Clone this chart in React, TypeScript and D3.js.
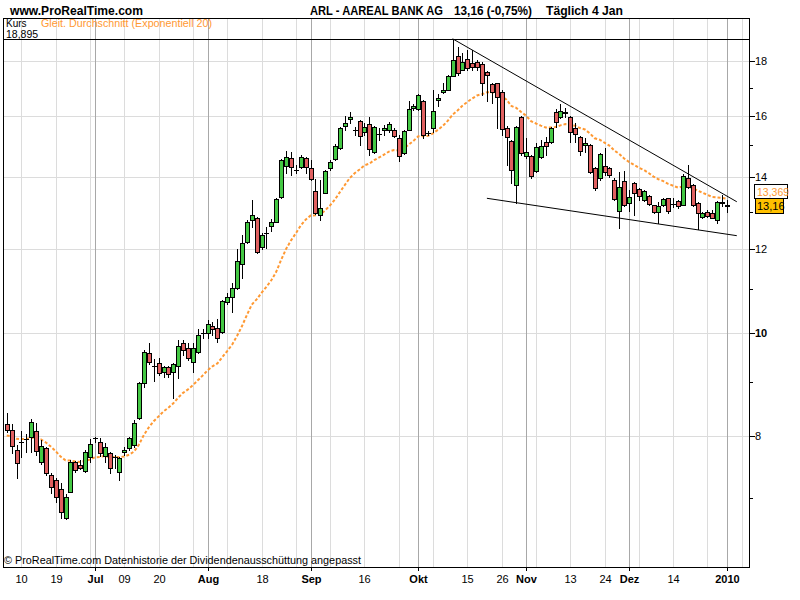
import React from "react";
import * as d3 from "d3";

// ---- Data (ARL - Aareal Bank AG, daily, 5 Jun 2009 .. 4 Jan 2010) ----
const opens = [
  8.21, 8.11, 7.76, 7.89, 7.94, 7.98, 8.09, 7.56, 7.80, 7.35,
  7.27, 7.13, 6.70, 7.09, 7.56, 7.51, 7.42, 7.64, 7.96, 7.90,
  7.66, 7.71, 7.64, 7.40, 7.73, 7.80, 7.85, 8.32, 8.97, 9.58,
  9.30, 9.37, 9.19, 9.29, 9.19, 9.31, 9.78, 9.68, 9.39, 9.60,
  9.99, 9.99, 10.15, 10.11, 10.02, 10.69, 10.81, 11.02, 11.61, 12.17,
  12.77, 12.82, 12.05, 12.40, 12.60, 12.71, 13.42, 14.35, 14.60, 14.22,
  14.32, 14.60, 14.29, 13.60, 12.91, 13.54, 14.29, 14.57, 14.92, 15.65,
  15.89, 15.52, 15.82, 15.45, 15.72, 14.79, 15.38, 15.52, 15.52, 15.52,
  15.25, 14.76, 15.52, 16.27, 16.24, 16.52, 15.40, 15.58, 16.56, 16.85,
  16.92, 17.44, 18.21, 17.67, 18.09, 17.93, 17.97, 17.90, 17.59, 17.15,
  17.18, 16.85, 15.58, 15.15, 13.78, 15.96, 14.67, 14.67, 14.20, 14.63,
  15.12, 15.12, 16.11, 15.96, 16.10, 15.96, 15.58, 15.28, 15.02, 15.02,
  14.29, 13.98, 14.35, 14.29, 13.92, 13.02, 13.89, 13.25, 13.83, 13.66,
  13.33, 13.45, 13.19, 12.99, 13.19, 13.39, 13.21, 13.30, 13.19, 13.98,
  13.77, 13.25, 12.86, 12.99, 12.96, 12.77, 13.25, 13.18,
];
const highs = [
  8.41, 8.21, 7.85, 8.09, 8.04, 8.30, 8.23, 7.93, 7.81, 7.38,
  7.30, 7.23, 7.05, 7.60, 7.58, 7.60, 7.76, 7.95, 7.98, 7.96,
  7.88, 7.73, 7.68, 7.64, 7.81, 7.98, 8.28, 9.00, 9.64, 9.78,
  9.45, 9.47, 9.31, 9.31, 9.36, 9.85, 9.85, 9.78, 9.78, 10.09,
  10.09, 10.28, 10.24, 10.30, 10.74, 10.90, 11.14, 11.99, 12.36, 12.77,
  13.33, 12.85, 12.41, 12.58, 12.80, 13.38, 14.56, 14.83, 14.80, 14.38,
  14.70, 14.63, 14.54, 13.95, 13.92, 14.22, 14.54, 15.05, 15.60, 16.00,
  16.13, 15.62, 15.84, 15.75, 15.96, 15.65, 15.58, 15.69, 15.79, 15.58,
  15.35, 15.50, 16.52, 16.41, 16.77, 16.55, 15.48, 16.92, 16.77, 17.18,
  17.46, 18.895, 18.57, 18.33, 18.45, 18.45, 18.05, 17.97, 17.63, 17.18,
  17.18, 16.92, 15.65, 15.18, 15.64, 15.98, 15.25, 14.70, 15.08, 15.18,
  15.28, 15.60, 16.24, 16.41, 16.27, 16.00, 15.75, 15.30, 15.25, 15.04,
  14.31, 14.76, 14.92, 14.32, 13.98, 14.17, 14.20, 13.63, 13.85, 13.68,
  13.63, 13.48, 13.20, 13.27, 13.39, 13.40, 13.39, 13.33, 14.10, 14.38,
  13.80, 13.27, 12.99, 13.05, 13.05, 13.30, 13.48, 13.33,
];
const lows = [
  8.07, 7.71, 7.30, 7.64, 7.73, 7.73, 7.68, 7.53, 7.36, 7.07,
  6.94, 6.70, 6.69, 7.08, 7.40, 7.45, 7.40, 7.56, 7.90, 7.66,
  7.56, 7.38, 7.46, 7.27, 7.68, 7.76, 7.81, 8.30, 8.90, 9.35,
  9.01, 9.13, 9.09, 9.09, 8.69, 9.07, 9.53, 9.43, 9.19, 9.58,
  9.89, 9.89, 9.96, 9.81, 10.00, 10.65, 10.46, 11.00, 11.26, 12.15,
  12.58, 11.89, 11.99, 12.02, 12.47, 12.70, 13.40, 14.14, 14.08, 14.14,
  14.30, 14.14, 13.93, 12.94, 12.77, 13.52, 14.23, 14.54, 14.90, 15.52,
  15.75, 15.35, 15.02, 15.35, 14.70, 14.77, 15.18, 15.35, 15.45, 15.28,
  14.51, 14.74, 15.50, 16.20, 16.20, 15.25, 15.35, 15.45, 16.35, 16.81,
  16.90, 17.42, 17.48, 17.65, 17.67, 17.67, 17.67, 16.74, 16.52, 16.45,
  15.58, 15.35, 14.38, 13.83, 13.25, 14.70, 14.60, 13.98, 14.17, 14.60,
  14.70, 15.08, 15.62, 15.92, 15.96, 15.12, 15.12, 14.70, 14.79, 14.14,
  13.63, 13.92, 14.08, 14.02, 13.33, 12.55, 13.16, 13.02, 12.91, 13.33,
  13.30, 13.19, 12.96, 12.68, 13.16, 12.96, 13.13, 13.10, 13.18, 13.68,
  13.16, 12.53, 12.83, 12.86, 12.83, 12.68, 13.16, 12.99,
];
const closes = [
  8.11, 7.83, 7.55, 7.90, 7.95, 8.25, 7.74, 7.83, 7.38, 7.16,
  7.01, 6.79, 7.01, 7.56, 7.43, 7.46, 7.73, 7.86, 7.97, 7.71,
  7.81, 7.46, 7.65, 7.63, 7.76, 7.97, 8.23, 8.97, 9.60, 9.39,
  9.31, 9.17, 9.29, 9.15, 9.35, 9.72, 9.64, 9.47, 9.68, 9.95,
  10.00, 10.19, 10.09, 9.89, 10.72, 10.81, 11.02, 11.68, 12.15, 12.71,
  12.91, 11.91, 12.36, 12.41, 12.71, 13.36, 14.54, 14.63, 14.32, 14.23,
  14.63, 14.32, 13.95, 12.96, 13.11, 14.20, 14.48, 14.99, 15.58, 15.75,
  15.96, 15.51, 15.32, 15.62, 14.89, 15.62, 15.39, 15.58, 15.72, 15.31,
  14.67, 15.48, 16.24, 16.34, 16.74, 15.35, 15.42, 16.17, 16.63, 16.92,
  17.44, 18.05, 17.55, 17.97, 17.74, 17.78, 17.78, 17.18, 17.48, 16.85,
  16.67, 15.55, 15.28, 14.23, 15.62, 14.76, 14.79, 14.04, 14.95, 14.99,
  14.99, 15.58, 15.79, 16.17, 16.11, 15.45, 15.38, 14.83, 15.08, 14.17,
  13.68, 14.73, 14.17, 14.08, 13.36, 13.71, 13.19, 13.42, 13.54, 13.45,
  13.60, 13.22, 12.99, 13.16, 13.36, 13.02, 13.22, 13.16, 14.04, 13.71,
  13.19, 12.96, 12.96, 12.88, 12.83, 13.27, 13.26, 13.16,
];

// x-axis labels (session index -> label)
const tickIdx = [3, 10, 18, 24, 31, 41, 52, 62, 73, 84, 94, 101, 106, 115, 122, 127, 136, 147];
const tickLabels = ["10", "19", "Jul", "09", "20", "Aug", "18", "Sep", "16", "Okt", "15", "26", "Nov", "13", "24", "Dez", "14", "2010"];
const monthIdx = [18, 41, 62, 84, 106, 127, 147];
// y-axis
const priceTicks = [8, 10, 12, 14, 16, 18];
const minorPriceTicks = [7, 9, 11, 13, 15, 17];
const boldPriceTicks = [10];
// trend lines (session index, price)
const upperTrendIdx = [91, 149];
const upperTrendPrice = [18.895, 13.28];
const lowerTrendIdx = [98, 149];
const lowerTrendPrice = [13.38, 12.34];
const emaPeriod = 20;
const emaStart = 8.0;
const maxHigh = 18.895;

const FONT = "'Liberation Sans', Arial, Helvetica, sans-serif";
const GREEN = "#44C844";
const RED = "#E06060";
const ORANGE = "#FF9933";

const fmt = (v: number, d: number) => v.toFixed(d).replace(".", ",");

export default function App() {
  const n = closes.length;
  const x = d3.scaleLinear().domain([0, n - 1]).range([6.7, 727]);
  const y = d3.scaleLog().domain([8, 18]).range([436, 61.2]);

  const L = 3, R = 749, T = 18, B = 567;

  // EMA(20) of closes
  const alpha = 2 / (emaPeriod + 1);
  const ema: number[] = [];
  let prev = emaStart;
  closes.forEach((c) => {
    prev = prev + alpha * (c - prev);
    ema.push(prev);
  });
  const emaLine = d3
    .line<number>()
    .x((_, i) => x(i))
    .y((d) => y(d));

  const weekGrid = d3.range(3, 151, 7);
  const lastClose = closes[n - 1];
  const yClose = Math.round(y(lastClose));
  const lastEma = ema[n - 1];

  return (
    <svg
      width={800}
      height={600}
      style={{ position: "absolute", left: 0, top: 0, background: "#fff" }}
      fontFamily={FONT}
    >
      <rect x={0} y={0} width={800} height={600} fill="#fff" />
      {/* header */}
      <text x={10} y={15} fontSize={12.5} fontWeight="bold" textLength={133} lengthAdjust="spacingAndGlyphs">www.ProRealTime.com</text>
      <text x={310} y={15} fontSize={12.5} fontWeight="bold" textLength={133} lengthAdjust="spacingAndGlyphs">ARL - AAREAL BANK AG</text>
      <text x={454} y={15} fontSize={12.5} fontWeight="bold" textLength={78} lengthAdjust="spacingAndGlyphs">13,16 (-0,75%)</text>
      <text x={546} y={15} fontSize={12.5} fontWeight="bold" textLength={77} lengthAdjust="spacingAndGlyphs">Täglich  4 Jan</text>

      {/* grid */}
      <g shapeRendering="crispEdges">
        {priceTicks.map((p) => (
          <line key={"h" + p} x1={L} x2={R} y1={Math.round(y(p)) + 0.5} y2={Math.round(y(p)) + 0.5} stroke="#DCDCDC" />
        ))}
        {weekGrid.map((i) => (
          <line key={"w" + i} x1={Math.round(x(i)) + 0.5} x2={Math.round(x(i)) + 0.5} y1={T} y2={B} stroke="#DCDCDC" />
        ))}
        {monthIdx.map((i) => (
          <line key={"m" + i} x1={Math.round(x(i)) + 0.5} x2={Math.round(x(i)) + 0.5} y1={T} y2={B} stroke="#A8A8A8" />
        ))}
      </g>

      {/* max line */}
      <line x1={L} x2={R} y1={Math.round(y(maxHigh)) + 0.5} y2={Math.round(y(maxHigh)) + 0.5} stroke="#000" shapeRendering="crispEdges" />

      {/* legend */}
      <text x={6} y={26.5} fontSize={10}>Kurs</text>
      <text x={6} y={37.5} fontSize={10.5}>{fmt(maxHigh, 3)}</text>
      <text x={41} y={26.5} fontSize={11} fill={ORANGE} textLength={171} lengthAdjust="spacingAndGlyphs">Gleit. Durchschnitt (Exponentiell 20)</text>

      {/* EMA */}
      <path d={emaLine(ema) || ""} fill="none" stroke={ORANGE} strokeWidth={2} strokeDasharray="3,2" />

      {/* candles */}
      <g shapeRendering="crispEdges">
        {closes.map((c, i) => {
          const cx = Math.round(x(i));
          const o = opens[i];
          const up = c >= o;
          const yTop = Math.round(y(Math.max(o, c)));
          const yBot = Math.round(y(Math.min(o, c)));
          return (
            <g key={i}>
              <line x1={cx + 0.5} x2={cx + 0.5} y1={Math.round(y(highs[i]))} y2={Math.round(y(lows[i])) + 1} stroke="#000" />
              {yBot - yTop >= 1 ? (
                <rect x={cx - 1.5} y={yTop + 0.5} width={4} height={yBot - yTop} fill={up ? GREEN : RED} stroke="#000" />
              ) : (
                <line x1={cx - 2} x2={cx + 3} y1={yTop + 0.5} y2={yTop + 0.5} stroke="#000" />
              )}
            </g>
          );
        })}
      </g>

      {/* trend lines */}
      <line x1={x(upperTrendIdx[0])} y1={y(upperTrendPrice[0])} x2={x(upperTrendIdx[1])} y2={y(upperTrendPrice[1])} stroke="#000" strokeWidth={1} />
      <line x1={x(lowerTrendIdx[0])} y1={y(lowerTrendPrice[0])} x2={x(lowerTrendIdx[1])} y2={y(lowerTrendPrice[1])} stroke="#000" strokeWidth={1} />

      {/* frame */}
      <g shapeRendering="crispEdges">
        <line x1={L + 0.5} x2={L + 0.5} y1={T} y2={B + 1} stroke="#000" />
        <line x1={L} x2={R + 1} y1={T + 0.5} y2={T + 0.5} stroke="#000" />
        <line x1={R + 0.5} x2={R + 0.5} y1={T} y2={B + 1} stroke="#000" />
        <line x1={L} x2={R + 1} y1={B + 0.5} y2={B + 0.5} stroke="#000" />
      </g>

      {/* footer */}
      <text x={4} y={564} fontSize={11} textLength={357} lengthAdjust="spacingAndGlyphs">© ProRealTime.com  Datenhistorie der Dividendenausschüttung angepasst</text>

      {/* x axis */}
      <g shapeRendering="crispEdges">
        {monthIdx.map((i) => (
          <line key={"xt" + i} x1={Math.round(x(i)) + 0.5} x2={Math.round(x(i)) + 0.5} y1={B} y2={B + 4} stroke="#000" />
        ))}
      </g>
      {tickIdx.map((i, k) => (
        <text
          key={"xl" + i}
          x={Math.round(x(i)) + 0.5}
          y={583}
          fontSize={11}
          textAnchor="middle"
          fontWeight={monthIdx.includes(i) ? "bold" : "normal"}
        >
          {tickLabels[k]}
        </text>
      ))}

      {/* y axis */}
      <g shapeRendering="crispEdges">
        {priceTicks.map((p) => (
          <line key={"yt" + p} x1={R} x2={R + 6} y1={Math.round(y(p)) + 0.5} y2={Math.round(y(p)) + 0.5} stroke="#000" />
        ))}
        {minorPriceTicks.map((p) => (
          <line key={"ym" + p} x1={R} x2={R + 4} y1={Math.round(y(p)) + 0.5} y2={Math.round(y(p)) + 0.5} stroke="#000" />
        ))}
      </g>
      {priceTicks.map((p) => (
        <text
          key={"yl" + p}
          x={755}
          y={y(p) + 4}
          fontSize={11}
          fontWeight={boldPriceTicks.includes(p) ? "bold" : "normal"}
        >
          {p}
        </text>
      ))}

      {/* last value labels */}
      <g shapeRendering="crispEdges">
        <rect x={754.5} y={yClose - 21.5} width={33} height={14} fill="#fff" stroke="#000" />
      </g>
      <text x={757} y={yClose - 10.5} fontSize={10.5} fill={ORANGE}>{fmt(lastEma, 3)}</text>
      <g shapeRendering="crispEdges">
        <rect x={755.5} y={yClose - 7.5} width={28} height={15} fill="#FFC000" stroke="#000" />
      </g>
      <text x={757} y={yClose + 4} fontSize={11} fill="#000">{fmt(lastClose, 2)}</text>
    </svg>
  );
}
